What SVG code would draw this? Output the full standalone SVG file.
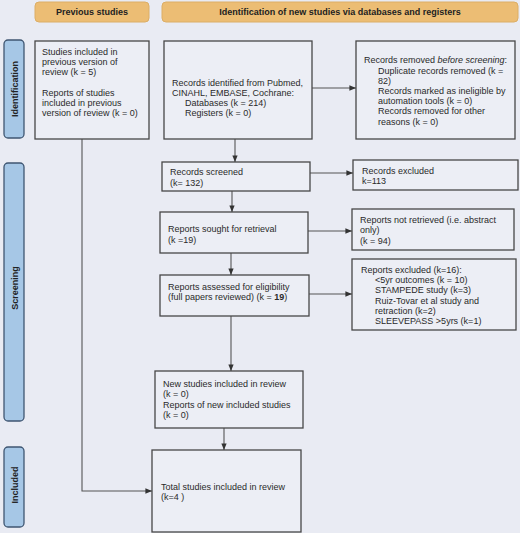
<svg xmlns="http://www.w3.org/2000/svg" width="520" height="533" viewBox="0 0 520 533">
<style>
text{font-family:"Liberation Sans",Arial,sans-serif;font-size:9px;fill:#2a2a2a}
.hd{font-weight:bold;fill:#222}
.box{fill:#eceef5;stroke:#474747;stroke-width:1.3}
.head{fill:#ecbd74;stroke:#dcae66;stroke-width:1}
.side{fill:#a6c7e6;stroke:#3f5672;stroke-width:1.3}
.ln{fill:none;stroke:#555;stroke-width:1.1}
</style>
<defs>
<marker id="ah" viewBox="0 0 10 10" refX="10" refY="5" markerWidth="6" markerHeight="6" orient="auto">
<path d="M0,1 L10,5 L0,9 z" fill="#333"/>
</marker>
</defs>
<rect width="520" height="533" fill="#e9ebf3"/>

<g id="head-prev"><rect class="head" x="35" y="2" width="114" height="20" rx="4"/><text class="hd" x="92" y="15" text-anchor="middle">Previous studies</text></g>
<g id="head-new"><rect class="head" x="162" y="2" width="356" height="20" rx="4"/><text class="hd" x="340" y="15" text-anchor="middle">Identification of new studies via databases and registers</text></g>

<g id="side-identification"><rect class="side" x="4" y="40" width="20" height="98" rx="4"/><text class="hd" transform="translate(17.5,89) rotate(-90)" text-anchor="middle">Identification</text></g>
<g id="side-screening"><rect class="side" x="4" y="163" width="20" height="258" rx="4"/><text class="hd" transform="translate(17.5,288) rotate(-90)" text-anchor="middle">Screening</text></g>
<g id="side-included"><rect class="side" x="4" y="447" width="20" height="80" rx="4"/><text class="hd" transform="translate(17.5,485) rotate(-90)" text-anchor="middle">Included</text></g>

<g id="connectors">
<line class="ln" x1="312" y1="88" x2="356" y2="88" marker-end="url(#ah)"/>
<line class="ln" x1="235" y1="139" x2="235" y2="162" marker-end="url(#ah)"/>
<line class="ln" x1="310" y1="173" x2="353" y2="173" marker-end="url(#ah)"/>
<line class="ln" x1="232" y1="191" x2="232" y2="212" marker-end="url(#ah)"/>
<line class="ln" x1="308" y1="231" x2="352" y2="231" marker-end="url(#ah)"/>
<line class="ln" x1="231" y1="253" x2="231" y2="275" marker-end="url(#ah)"/>
<line class="ln" x1="309" y1="294" x2="352" y2="294" marker-end="url(#ah)"/>
<line class="ln" x1="231" y1="316" x2="231" y2="371" marker-end="url(#ah)"/>
<line class="ln" x1="224" y1="428" x2="224" y2="450" marker-end="url(#ah)"/>
<polyline class="ln" points="82,139 82,491 152,491" marker-end="url(#ah)"/>
</g>

<g id="prev-studies"><rect class="box" x="35" y="41" width="114" height="98"/>
<text x="42" y="55">Studies included in</text>
<text x="42" y="65">previous version of</text>
<text x="42" y="75">review (k = 5)</text>
<text x="42" y="96">Reports of studies</text>
<text x="42" y="106">included in previous</text>
<text x="42" y="116">version of review (k = 0)</text></g>

<g id="records-identified"><rect class="box" x="164" y="41" width="148" height="98"/>
<text x="172" y="86">Records identified from Pubmed,</text>
<text x="172" y="96">CINAHL, EMBASE, Cochrane:</text>
<text x="185" y="106">Databases (k = 214)</text>
<text x="185" y="116">Registers (k = 0)</text></g>

<g id="records-removed"><rect class="box" x="356" y="41" width="159" height="98"/>
<text x="364" y="63">Records removed <tspan font-style="italic">before screening</tspan>:</text>
<text x="378" y="74">Duplicate records removed (k =</text>
<text x="378" y="84">82)</text>
<text x="378" y="94">Records marked as ineligible by</text>
<text x="378" y="104">automation tools (k = 0)</text>
<text x="378" y="114">Records removed for other</text>
<text x="378" y="125">reasons (k = 0)</text></g>

<g id="records-screened"><rect class="box" x="162" y="162" width="148" height="29"/>
<text x="170" y="175">Records screened</text>
<text x="170" y="186">(k= 132)</text></g>

<g id="records-excluded"><rect class="box" x="353" y="160" width="165" height="30"/>
<text x="362" y="174">Records excluded</text>
<text x="362" y="184">k=113</text></g>

<g id="reports-sought"><rect class="box" x="160" y="212" width="148" height="41"/>
<text x="168" y="232">Reports sought for retrieval</text>
<text x="168" y="243">(k =19)</text></g>

<g id="reports-not-retrieved"><rect class="box" x="352" y="209" width="162" height="41"/>
<text x="360" y="223">Reports not retrieved (i.e. abstract</text>
<text x="360" y="233">only)</text>
<text x="360" y="244">(k = 94)</text></g>

<g id="reports-assessed"><rect class="box" x="160" y="275" width="149" height="41"/>
<text x="168" y="290">Reports assessed for eligibility</text>
<text x="168" y="300">(full papers reviewed) (k = <tspan font-weight="bold">19</tspan>)</text></g>

<g id="reports-excluded"><rect class="box" x="352" y="259" width="164" height="71"/>
<text x="361" y="273">Reports excluded (k=16):</text>
<text x="375" y="283">&lt;5yr outcomes (k = 10)</text>
<text x="375" y="293">STAMPEDE study (k=3)</text>
<text x="375" y="304">Ruiz-Tovar et al study and</text>
<text x="375" y="314">retraction (k=2)</text>
<text x="375" y="324">SLEEVEPASS &gt;5yrs (k=1)</text></g>

<g id="new-studies"><rect class="box" x="155" y="371" width="148" height="57"/>
<text x="163" y="387">New studies included in review</text>
<text x="163" y="397">(k = 0)</text>
<text x="163" y="408">Reports of new included studies</text>
<text x="163" y="418">(k = 0)</text></g>

<g id="total-studies"><rect class="box" x="152" y="450" width="149" height="82"/>
<text x="161" y="490">Total studies included in review</text>
<text x="161" y="500">(k=4 )</text></g>
</svg>
